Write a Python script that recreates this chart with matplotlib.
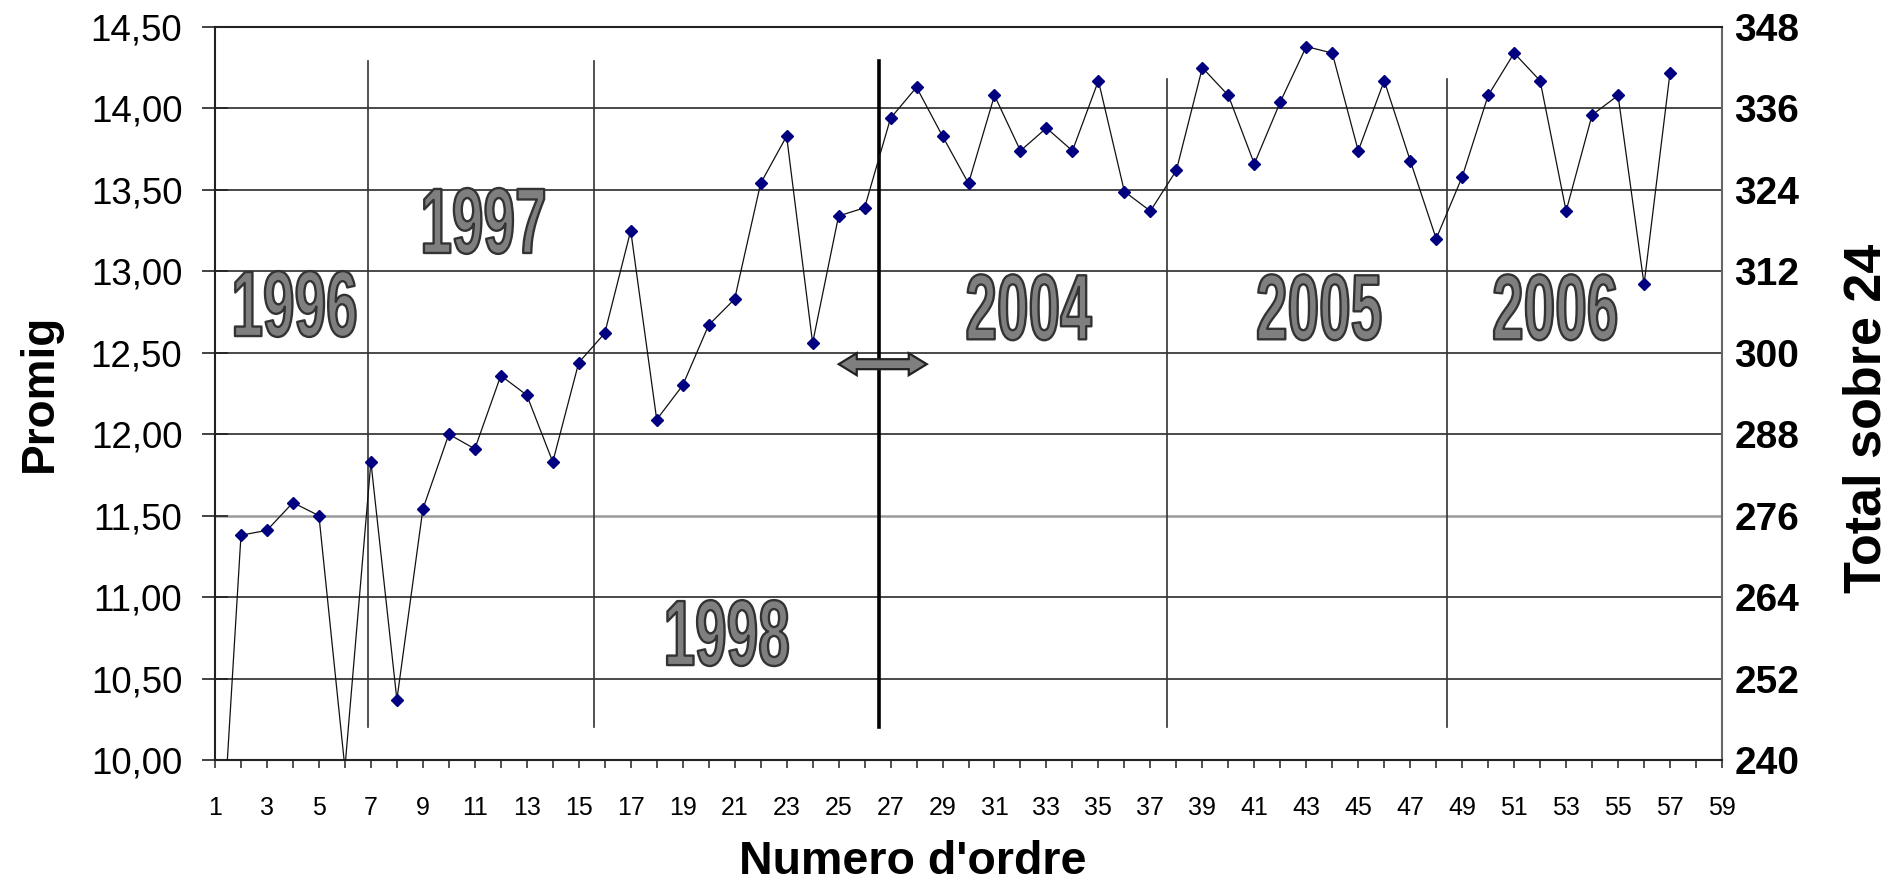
import matplotlib
matplotlib.use("Agg")
import matplotlib.pyplot as plt
from matplotlib import font_manager
from matplotlib.patheffects import AbstractPathEffect
from matplotlib.transforms import Affine2D, ScaledTranslation
from matplotlib.patches import Polygon
from matplotlib.ticker import FixedLocator, MultipleLocator

# ---------------- data ----------------
order = list(range(1, 58))
promig = [8.75, 11.38, 11.41, 11.58, 11.50, 9.95, 11.83, 10.37, 11.54, 12.00,
          11.91, 12.36, 12.24, 11.83, 12.44, 12.62, 13.25, 12.09, 12.30, 12.67,
          12.83, 13.54, 13.83, 12.56, 13.34, 13.39, 13.94, 14.13, 13.83, 13.54,
          14.08, 13.74, 13.88, 13.74, 14.17, 13.49, 13.37, 13.62, 14.25, 14.08,
          13.66, 14.04, 14.38, 14.34, 13.74, 14.17, 13.68, 13.20, 13.58, 14.08,
          14.34, 14.17, 13.37, 13.96, 14.08, 12.92, 14.22]

y_ticks = [10.0, 10.5, 11.0, 11.5, 12.0, 12.5, 13.0, 13.5, 14.0, 14.5]
y_tick_labels = ["10,00", "10,50", "11,00", "11,50", "12,00", "12,50",
                 "13,00", "13,50", "14,00", "14,50"]
right_ticks = [240, 252, 264, 276, 288, 300, 312, 324, 336, 348]
right_tick_labels = [str(v) for v in right_ticks]
x_ticks = list(range(1, 60, 2))
x_tick_labels = [str(v) for v in x_ticks]

separator_x = [6.87, 15.6, 37.65, 48.4]
separator_top = [14.29, 14.29, 14.18, 14.18]
separator_bottom = 10.2
divider_x = 26.57
divider_top = 14.29

year_labels = ["1996", "1997", "1998", "2004", "2005", "2006"]
year_x = [4.04, 11.32, 20.67, 32.29, 43.49, 52.58]
year_y = [12.75, 13.26, 10.73, 12.73, 12.73, 12.73]

arrow_center = (26.7, 12.43)

# ---------------- fonts ----------------
def has_font(name):
    try:
        font_manager.findfont(font_manager.FontProperties(family=name),
                              fallback_to_default=False)
        return True
    except Exception:
        return False

base_font = "Liberation Sans" if has_font("Liberation Sans") else "DejaVu Sans"
if has_font("Liberation Sans Narrow"):
    year_font, year_sx = "Liberation Sans Narrow", 0.75
else:
    year_font, year_sx = base_font, 0.61
plt.rcParams["font.family"] = [base_font, "DejaVu Sans"]


class SqueezeText(AbstractPathEffect):
    """Horizontally condense text glyphs and draw them filled with an outline."""
    def __init__(self, sx, lw, ec, fc):
        super().__init__()
        self.sx, self.lw, self.ec, self.fc = sx, lw, ec, fc

    def draw_path(self, renderer, gc, tpath, affine, rgbFace=None):
        ext = tpath.get_extents()
        cx = 0.5 * (ext.x0 + ext.x1)
        aff = Affine2D().translate(-cx, 0).scale(self.sx, 1).translate(cx, 0) + affine
        gc0 = renderer.new_gc()
        gc0.copy_properties(gc)
        gc0.set_linewidth(self.lw)
        gc0.set_foreground(self.ec)
        renderer.draw_path(gc0, tpath, aff, matplotlib.colors.to_rgba(self.fc))
        gc0.restore()


# ---------------- figure ----------------
W, H = 1903, 884
fig = plt.figure(figsize=(W / 100, H / 100), dpi=100)
L, R, T, B = 215, 1722, 27, 760
ax = fig.add_axes([L / W, 1 - B / H, (R - L) / W, (B - T) / H])

ax.set_xlim(1, 59)
ax.set_ylim(10, 14.5)

# grid
ax.set_yticks(y_ticks)
ax.set_yticklabels(y_tick_labels, fontsize=26.5)
ax.yaxis.grid(True, color="#3a3a3a", linewidth=1.3)
ax.set_axisbelow(True)
gl = ax.yaxis.get_gridlines()
gl[3].set_color("#9a9a9a")
gl[3].set_linewidth(1.8)

ax.xaxis.set_major_locator(FixedLocator(x_ticks))
ax.set_xticklabels(x_tick_labels, fontsize=18)
ax.xaxis.set_minor_locator(MultipleLocator(1))
ax.tick_params(axis="x", which="both", direction="out", length=6, width=1.2,
               color="#333333", pad=20)
ax.tick_params(axis="y", which="major", direction="inout", length=19, width=1.2,
               color="#222222", pad=14)

for side in ["left", "bottom", "top"]:
    ax.spines[side].set_color("#222222")
    ax.spines[side].set_linewidth(1.5)
ax.spines["right"].set_color("#666666")
ax.spines["right"].set_linewidth(1.5)

# year separators
for xv, top in zip(separator_x, separator_top):
    ax.plot([xv, xv], [separator_bottom, top], color="#333333", linewidth=1.2, zorder=2)
ax.plot([divider_x, divider_x], [separator_bottom, divider_top], color="#000000",
        linewidth=2.6, zorder=2)

# series
ax.plot(order, promig, color="#111111", linewidth=0.9, marker="D", markersize=5.8,
        markerfacecolor="#000080", markeredgecolor="#000080", zorder=4)

# double arrow on divider
arr_pts = [(-44, 0), (-26, 11), (-26, 5), (26, 5), (26, 11), (44, 0),
           (26, -11), (26, -5), (-26, -5), (-26, -11)]
arr_tr = Affine2D() + ScaledTranslation(arrow_center[0], arrow_center[1], ax.transData)
ax.add_patch(Polygon(arr_pts, closed=True, transform=arr_tr, facecolor="#7f7f7f",
                     edgecolor="#222222", linewidth=1.6, zorder=5, clip_on=False))

# year labels
for txt, xv, yv in zip(year_labels, year_x, year_y):
    ax.text(xv, yv, txt, ha="center", va="center", fontsize=67,
            family=year_font, fontweight="bold", color="#7f7f7f", zorder=3,
            path_effects=[SqueezeText(year_sx, 1.7, "#333333", "#7f7f7f")])

# right axis
ax2 = ax.twinx()
ax2.set_ylim(240, 348)
ax2.set_yticks(right_ticks)
ax2.set_yticklabels(right_tick_labels, fontsize=28, fontweight="bold")
ax2.tick_params(axis="y", length=0, pad=9)
for side in ["left", "bottom", "top", "right"]:
    ax2.spines[side].set_visible(False)

# axis titles
fig.text(40 / W, 1 - 393 / H, "Promig", rotation=90, ha="center", va="center",
         fontsize=33, fontweight="bold")
fig.text(1867 / W, 1 - 418 / H, "Total sobre 24", rotation=90, ha="center",
         va="center", fontsize=37.5, fontweight="bold")
fig.text(913 / W, 1 - 862 / H, "Numero d'ordre", ha="center", va="center",
         fontsize=33.5, fontweight="bold")

fig.savefig("out.png", dpi=100, facecolor="white")
